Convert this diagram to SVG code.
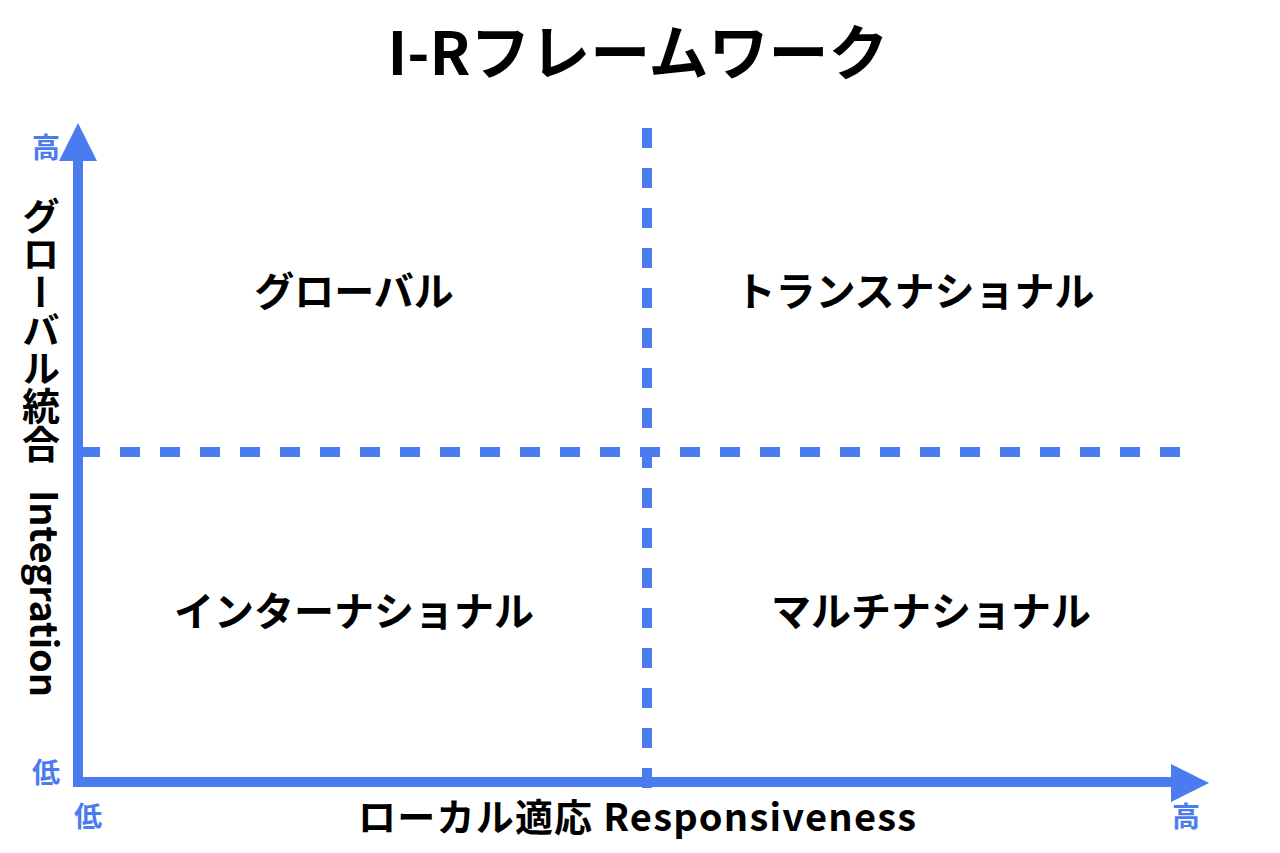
<svg xmlns="http://www.w3.org/2000/svg" width="1280" height="853" viewBox="0 0 1280 853">
<style>
.t{font-family:"Noto Sans CJK JP","Noto Sans",sans-serif;font-weight:bold;fill:#000;}
.q{font-size:40px;text-anchor:middle;}
.s{font-family:"Noto Sans CJK JP","Noto Sans",sans-serif;font-weight:bold;fill:#4A7CF0;font-size:28px;text-anchor:middle;dominant-baseline:central;}
.ax{stroke:#4A7CF0;stroke-width:10;fill:none;}
.dash{stroke:#4A7CF0;stroke-width:10;fill:none;stroke-dasharray:20 20;}
.head{fill:#4A7CF0;}
</style>
<rect width="1280" height="853" fill="#fff"/>
<g id="title"><text class="t" x="638" y="75" font-size="60" text-anchor="middle">I-Rフレームワーク</text></g>
<g id="connectors">
<line class="dash" x1="80" y1="452" x2="1180" y2="452"/>
<line class="dash" x1="647" y1="128" x2="647" y2="790"/>
<line class="ax" x1="78" y1="787" x2="78" y2="158"/>
<line class="ax" x1="73" y1="782" x2="1174" y2="782"/>
<polygon class="head" points="78,123 59,161 97,161"/>
<polygon class="head" points="1209,783 1171,764 1171,802"/>
</g>
<g id="q-global"><text class="t q" x="354" y="306">グローバル</text></g>
<g id="q-transnational"><text class="t q" x="915" y="306">トランスナショナル</text></g>
<g id="q-international"><text class="t q" x="354" y="626">インターナショナル</text></g>
<g id="q-multinational"><text class="t q" x="931" y="626">マルチナショナル</text></g>
<g id="x-label"><text class="t" x="358" y="831" font-size="38" textLength="558" lengthAdjust="spacing">ローカル適応 Responsiveness</text></g>
<g id="y-label">
<text class="t" x="41" y="197" font-size="38" style="writing-mode:vertical-rl">グローバル統合</text>
<text class="t" transform="translate(30,490) rotate(90)" font-size="38" textLength="207" lengthAdjust="spacing">Integration</text>
</g>
<g id="ticks">
<text class="s" x="46" y="146">高</text>
<text class="s" x="46" y="771">低</text>
<text class="s" x="88" y="815">低</text>
<text class="s" x="1186" y="815">高</text>
</g>
</svg>
